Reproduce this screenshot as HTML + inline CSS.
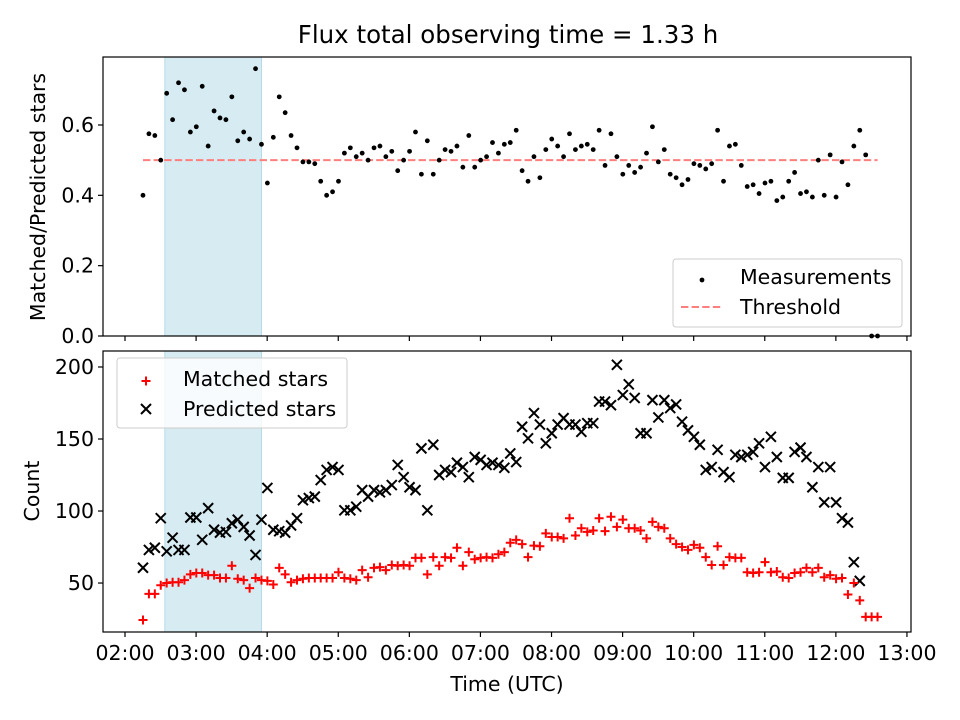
<!DOCTYPE html>
<html><head><meta charset="utf-8"><style>
body{margin:0;background:#fff}
svg{display:block;font-family:"DejaVu Sans","Liberation Sans",sans-serif}
</style></head><body>
<svg id="c" width="960" height="720" viewBox="0 0 960 720">
 <text x="508" y="43" style="font-size:24.5px" text-anchor="middle">Flux total observing time = 1.33 h</text>
 <text transform="translate(45,197) rotate(-90)" style="font-size:20.5px" text-anchor="middle">Matched/Predicted stars</text>
 <text transform="translate(39,491) rotate(-90)" style="font-size:20.5px" text-anchor="middle">Count</text>
 <text x="507" y="691" style="font-size:20.5px" text-anchor="middle">Time (UTC)</text>
</svg>
<script>
const startHour = 2.253;
const stepHours = 5 / 60;
const ratio = [.40,.575,.57,.50,.69,.615,.72,.70,.58,.595,.71,.54,.64,.62,.615,.68,.555,.58,.56,.76,.545,.435,.565,.68,.635,.57,.535,.495,.495,.49,.44,.40,.41,.44,.52,.535,.51,.52,.50,.535,.54,.51,.525,.47,.50,.525,.58,.46,.555,.46,.50,.53,.525,.54,.48,.57,.48,.50,.51,.55,.52,.545,.55,.585,
.47,.44,.51,.45,.53,.56,.54,.51,.575,.53,.54,.545,.53,.585,.485,.575,.51,.46,.485,.465,.48,.52,.595,.495,.53,.46,.45,.43,.445,.49,.485,.475,.49,.585,.44,.54,.545,.485,.425,.43,.405,.435,.44,.385,.395,.44,.465,.405,.41,.395,.50,.40,.515,.395,.495,.43,.54,.585,.515,0,0];
const threshold = 0.5;
const predicted = [60.6,73,74.5,95,72,81.5,73,73,95.5,95.5,80,102,87,85,85.5,91.5,94,89,83,69.5,94,116,87,86,85,90,95,107.5,109,110,121.5,128.5,130.5,128.5,100.5,100.5,103,114.5,110,114.5,113,114.5,118,132,123.5,116.5,114.5,143.5,100.5,146,125,128.5,127,133.5,130.5,123.5,137.5,135.5,132,133.5,132,130,140,134,158.5,
150.5,168,160,147,154,160,164.5,160,160,155,161,161,176,176,173.5,201.5,180.5,188,178.5,154,154,177,165,177,171.5,174,162,156,151.5,146,128.5,130.5,142.5,127,123.5,139,137.5,139,141,147,130.5,151.5,137.5,123,123,141,144,137.5,116.5,130.5,106,130.5,106,95,92,64.5,51.5];
const matched = [24.3,42.5,42.5,48.5,50,50.5,50.5,52,56,57,57,55.5,55.5,53.5,53.5,62,53,52,46.5,53.5,52,51.5,49,60.5,56,50.5,52,53,53.5,53.5,53.5,53.5,53.5,57.5,53.5,53,52,59,54,60.5,61,59,62.5,62,62.5,62,67.5,67.5,56,68,62,68,67.5,74.5,62,71.5,66.5,67.5,68,67.5,70,71.5,78,80,77,
68,76,75.5,84.5,82,82,81,95,83,88,85.5,86.5,95,86,96,89,94,88,88,86.5,81,92.5,89,88,81,77,75,73,76.5,74.5,68,62.5,75.5,62.5,68,67.5,67.5,57.5,57,57.5,64.5,57.5,58,54,53.5,57,57.5,60.5,57.5,60.5,54,55.5,53,53.5,42,50,38,26.5,26.5,26.5];
const xTickLabels = ["02:00","03:00","04:00","05:00","06:00","07:00","08:00","09:00","10:00","11:00","12:00","13:00"];
const topYTicks = [0,0.2,0.4,0.6];
const botYTicks = [50,100,150,200];
const shadeStart = 2.56, shadeEnd = 3.92;

const NS = "http://www.w3.org/2000/svg";
const svg = document.getElementById('c');
function mk(tag, attrs, parent){const e=document.createElementNS(NS,tag);for(const k in attrs)e.setAttribute(k,attrs[k]);(parent||svg).appendChild(e);return e;}
const FS = 'font-size:20.5px';
const L=103,R=911,T1=57,B1=336,T2=351,B2=632;
const x = h => L + (h - 1.6905) / (13.057 - 1.6905) * (R - L);
const y1 = v => B1 - (v / 0.7933) * (B1 - T1);
const y2 = v => B2 - (v - 16) / (211.1 - 16) * (B2 - T2);
const tAt = i => startHour + i * stepHours;

[[T1,B1],[T2,B2]].forEach(([t,b],k)=>{
  const r = mk('rect',{x:x(shadeStart),y:t,width:x(shadeEnd)-x(shadeStart),height:b-t,fill:'rgba(173,216,230,0.5)',stroke:'rgba(173,216,230,0.9)'});
  
  
});

const th = mk('line',{x1:x(tAt(0)),x2:x(tAt(ratio.length-1)),y1:y1(threshold),y2:y1(threshold),stroke:'#ff7f7f','stroke-width':2,'stroke-dasharray':'7.4,3.2'});



const gTop = mk('g',{});


ratio.forEach((v,i)=>{
  const c = mk('circle',{cx:x(tAt(i)),cy:y1(v),r:2.4,fill:'#000'},gTop);
  
  
});

function plus(cx,cy,g,col){mk('path',{d:`M${cx-4.5},${cy}H${cx+4.5}M${cx},${cy-4.5}V${cy+4.5}`,stroke:col,'stroke-width':2},g);}
function cross(cx,cy,g){mk('path',{d:`M${cx-5},${cy-5}L${cx+5},${cy+5}M${cx-5},${cy+5}L${cx+5},${cy-5}`,stroke:'#000','stroke-width':2},g);}
const gP = mk('g',{});


predicted.forEach((v,i)=>cross(x(tAt(i)),y2(v),gP));
const gM = mk('g',{});


matched.forEach((v,i)=>plus(x(tAt(i)),y2(v),gM,'#f00'));

[[T1,B1,'top-axes-frame'],[T2,B2,'bottom-axes-frame']].forEach(([t,b,n])=>{
  const r = mk('rect',{x:L,y:t,width:R-L,height:b-t,fill:'none',stroke:'#000','stroke-width':1.2});
  
  
});
xTickLabels.forEach((lab,i)=>{
  const xx = x(2+i);
  mk('line',{x1:xx,x2:xx,y1:B1,y2:B1+5,stroke:'#000','stroke-width':1.2});
  mk('line',{x1:xx,x2:xx,y1:B2,y2:B2+5,stroke:'#000','stroke-width':1.2});
  const t = mk('text',{x:xx,y:B2+28,style:FS,'text-anchor':'middle'});
  t.textContent = lab;
  
  
});
topYTicks.forEach(v=>{
  const yy=y1(v);
  mk('line',{x1:L-5,x2:L,y1:yy,y2:yy,stroke:'#000','stroke-width':1.2});
  const t=mk('text',{x:L-9,y:yy+7,style:FS,'text-anchor':'end'});
  t.textContent=v.toFixed(1);
  
  
});
botYTicks.forEach(v=>{
  const yy=y2(v);
  mk('line',{x1:L-5,x2:L,y1:yy,y2:yy,stroke:'#000','stroke-width':1.2});
  const t=mk('text',{x:L-9,y:yy+7,style:FS,'text-anchor':'end'});
  t.textContent=v;
  
  
});

const lg1 = mk('g',{});


mk('rect',{x:673,y:259,width:229,height:68,rx:3,fill:'rgba(255,255,255,0.8)',stroke:'#ccc'},lg1);
mk('circle',{cx:702,cy:280,r:2.4,fill:'#000'},lg1);
mk('text',{x:740,y:284,style:FS},lg1).textContent='Measurements';
mk('line',{x1:681,x2:723,y1:307,y2:307,stroke:'#ff7f7f','stroke-width':2,'stroke-dasharray':'7.4,3.2'},lg1);
mk('text',{x:740,y:314,style:FS},lg1).textContent='Threshold';

const lg2 = mk('g',{});


mk('rect',{x:117,y:358,width:230,height:70,rx:3,fill:'rgba(255,255,255,0.8)',stroke:'#ccc'},lg2);
plus(146,381,lg2,'#f00');
mk('text',{x:183,y:386,style:FS},lg2).textContent='Matched stars';
cross(146,409,lg2);
mk('text',{x:183,y:416,style:FS},lg2).textContent='Predicted stars';
</script>
</body></html>
